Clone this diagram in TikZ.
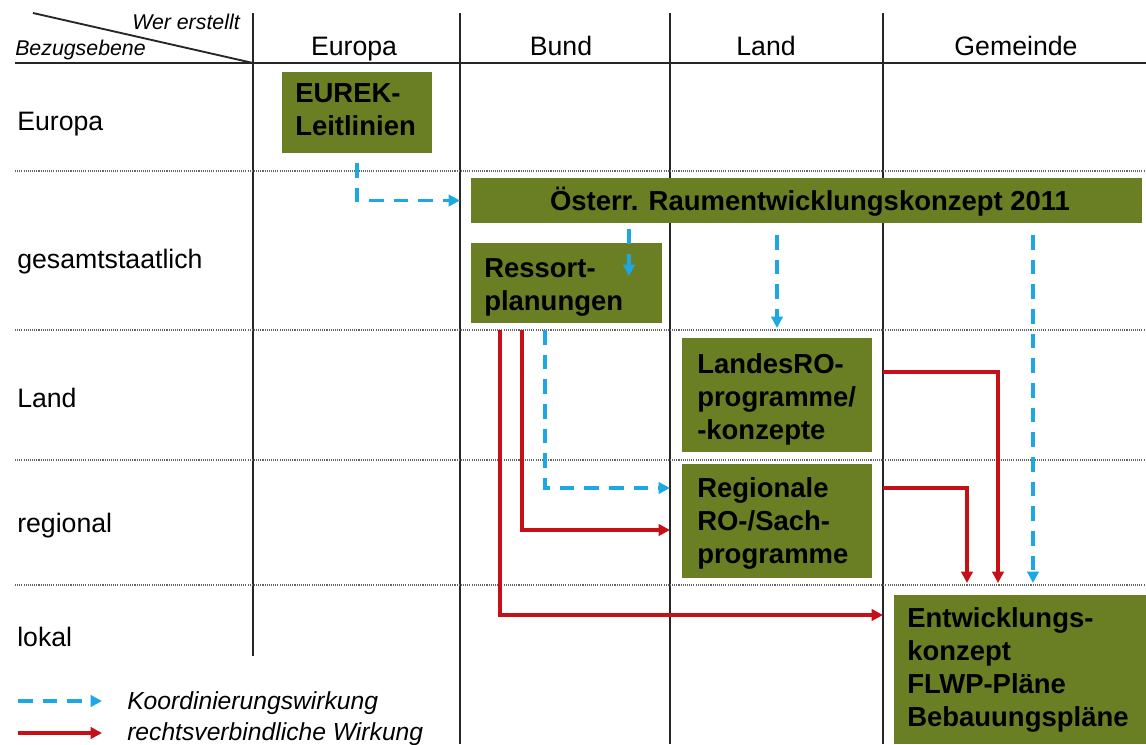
\documentclass[tikz,border=0pt]{standalone}
\usepackage{fontspec}
\setmainfont{Liberation Sans}
\usetikzlibrary{arrows.meta,fit}
\definecolor{boxgreen}{RGB}{106,126,36}
\definecolor{koordblue}{RGB}{28,168,228}
\definecolor{rechtred}{RGB}{196,16,22}
\newcommand{\hdrfont}{\fontsize{20}{24}\selectfont}
\newcommand{\smallitfont}{\fontsize{16}{19}\selectfont\itshape}
\newcommand{\legfont}{\fontsize{18.5}{22}\selectfont\itshape}
\newcommand{\boxfont}{\fontsize{20.6}{24.8}\selectfont\bfseries}
\begin{document}
\begin{tikzpicture}[x=0.75pt,y=-0.75pt,
  gridline/.style={line width=1.4pt, draw=black!85},
  dotline/.style={line width=1pt, draw=black!60, dash pattern=on 0.8pt off 0.8pt},
  box/.style={fill=boxgreen, draw=none, inner sep=0pt, outer sep=0pt},
  boxtext/.style={anchor=north west, inner sep=0pt, align=left, font=\boxfont, text=black},
  hdr/.style={inner sep=0pt, font=\hdrfont},
  smallit/.style={inner sep=0pt, font=\smallitfont},
  legtext/.style={inner sep=0pt, font=\legfont, anchor=base west},
  koord/.style={draw=koordblue, line width=2.5pt, dash pattern=on 11pt off 7.5pt,
    -{Triangle[length=8.5pt,width=8.5pt]}},
  recht/.style={draw=rechtred, line width=2.4pt,
    -{Triangle[length=8.5pt,width=8.5pt]}}
]
\useasboundingbox (0,0) rectangle (1146,744);

% grid
\draw[gridline] (33,13) -- (253,63);
\draw[gridline] (15,63) -- (1146,63);
\foreach \x/\yb in {253/656,460/744,670/744,883/744}
  \draw[gridline] (\x,13) -- (\x,\yb);
\foreach \y in {171,330,460,585}
  \draw[dotline] (15,\y) -- (1146,\y);

% headers
\node[smallit, anchor=base east] (wer) at (240,29) {Wer erstellt};
\node[smallit, anchor=base west] (bez) at (15,55) {Bezugsebene};
\node[hdr, anchor=base] (hEuropa) at (354,55) {Europa};
\node[hdr, anchor=base] (hBund) at (561,55) {Bund};
\node[hdr, anchor=base] (hLand) at (766,55) {Land};
\node[hdr, anchor=base] (hGem) at (1016,55) {Gemeinde};

% row labels
\node[hdr, anchor=base west] (rEuropa) at (17,130) {Europa};
\node[hdr, anchor=base west] (rGes) at (17,268) {gesamtstaatlich};
\node[hdr, anchor=base west] (rLand) at (17,407) {Land};
\node[hdr, anchor=base west] (rReg) at (17,532) {regional};
\node[hdr, anchor=base west] (rLokal) at (17,646) {lokal};

% boxes
\node[box, fit={(282,72) (432,153)}] (eurek) {};
\node[boxtext] (eurektxt) at (295,83) {EUREK-\\Leitlinien};

\node[box, fit={(471,178) (1142,223)}] (oesterr) {};
\node[boxtext, anchor=base] (oesterrtxt) at (810,210) {Österr. Raumentwicklungskonzept 2011};

\node[box, fit={(471,243) (662,323)}] (ressort) {};
\node[boxtext] (ressorttxt) at (484,258) {Ressort-\\planungen};

\node[box, fit={(682,338) (872,452)}] (landes) {};
\node[boxtext] (landestxt) at (697,353.5) {LandesRO-\\programme/\\-konzepte};

\node[box, fit={(682,464) (872,578)}] (regional) {};
\node[boxtext] (regionaltxt) at (697,477.5) {Regionale\\RO-/Sach-\\programme};

\node[box, fit={(894,595) (1146,744)}] (entw) {};
\node[boxtext] (entwtxt) at (907,607.5) {Entwicklungs-\\konzept\\FLWP-Pläne\\Bebauungspläne};

% connector coordinates
\coordinate (k2s) at (629,229);
\coordinate (k2e) at (629,276);
\coordinate (k4s) at (1033,235);
\coordinate (k4e) at (1033,583);
\coordinate (k5s) at (545,330);
\coordinate (k5e) at (670,488);
\coordinate (r1s) at (522,330);
\coordinate (r1e) at (670,530);
\coordinate (r2s) at (500,330);
\coordinate (r2e) at (883,615);
\coordinate (r3s) at (883,372);
\coordinate (r3e) at (998,583);
\coordinate (r4s) at (883,488);
\coordinate (r4e) at (967,583);

% Koordinierungswirkung
\draw[koord, shorten <=7.5pt, shorten >=8.25pt] (eurek.south) |- (oesterr.west);
\draw[koord] (k2s) -- (k2e);
\draw[koord, shorten <=9pt, shorten >=7.5pt] (oesterr.south -| landes.north) -- (landes.north);
\draw[koord] (k4s) -- (k4e);
\draw[koord] (k5s) |- (k5e);

% rechtsverbindliche Wirkung
\draw[recht] (r1s) |- (r1e);
\draw[recht] (r2s) |- (r2e);
\draw[recht] (r3s) -| (r3e);
\draw[recht] (r4s) -| (r4e);

% legend
\coordinate (l1s) at (18,701);
\coordinate (l1e) at (102,701);
\coordinate (l2s) at (18,733);
\coordinate (l2e) at (102,733);
\draw[koord] (l1s) -- (l1e);
\draw[recht] (l2s) -- (l2e);
\node[legtext] (leg1) at (127,709) {Koordinierungswirkung};
\node[legtext] (leg2) at (127,740) {rechtsverbindliche Wirkung};
\end{tikzpicture}
\end{document}
